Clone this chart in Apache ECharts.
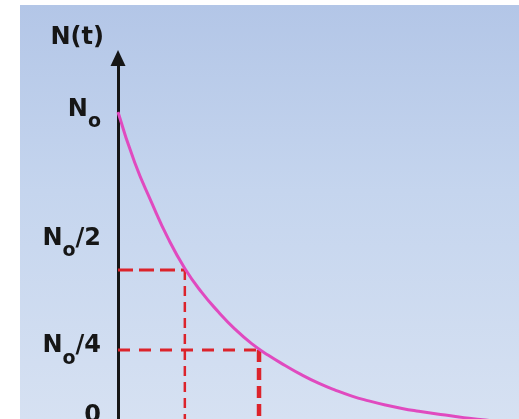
<!DOCTYPE html>
<html>
<head>
<meta charset="utf-8">
<script src="https://cdn.jsdelivr.net/npm/echarts@6/dist/echarts.min.js"></script>
<style>
html, body { margin: 0; padding: 0; background: #fff; }
#wrap { position: relative; width: 519px; height: 419px; overflow: hidden; }
#bg { position: absolute; left: 20px; top: 5px; right: 0; bottom: 0;
      background: linear-gradient(180deg, #b3c6e7 0%, #c5d5ee 45%, #d6e1f2 100%); }
#chart { position: absolute; left: 0; top: 0; width: 519px; height: 419px; }
</style>
</head>
<body>
<div id="wrap"><div id="bg"></div><div id="chart"></div></div>
<script>
// decay curve (t in half-lives, N as a fraction of N0)
const times = [0, 0.25, 0.5, 0.75, 1, 1.25, 1.5, 1.75, 2, 2.25, 2.5, 2.75, 3,
    3.25, 3.5, 3.75, 4, 4.25, 4.5, 4.75, 5, 5.25, 5.5, 5.75, 6];
const counts = [1.0, 0.84, 0.715, 0.60, 0.505, 0.43, 0.368, 0.313, 0.267, 0.23, 0.198, 0.168, 0.142,
    0.12, 0.101, 0.086, 0.073, 0.062, 0.053, 0.045, 0.038, 0.031, 0.025, 0.02, 0.016];

// where the dashed guides meet the curve
const halfPoint = [1.0, 0.5];
const quarterPoint = [2.11, 0.247];

// y axis labels: value each one sits at, and its text
const tickValues = [0.038, 0.256, 0.595, 1.005];
const tickTexts = ['0', '{n|N}{s|o}{n|/4}', '{n|N}{s|o}{n|/2}', '{n|N}{s|o}'];

const red = '#dc232b';
const ink = '#161616';
const font = 'DejaVu Sans';

function guide(points, width, dash) {
    return {
        type: 'line',
        data: points,
        symbol: 'none',
        silent: true,
        clip: true,
        lineStyle: { color: red, width: width, type: dash }
    };
}

const chart = echarts.init(document.getElementById('chart'));
chart.setOption({
    animation: false,
    // zero sits a little below the bottom edge, so the axis starts just above it
    grid: { left: 118, top: 58, right: 0, bottom: 0, containLabel: false, outerBoundsMode: 'none' },
    xAxis: { type: 'value', min: 0, max: 6, show: false },
    yAxis: {
        type: 'value',
        min: 0.0285,
        max: 1.171,
        name: 'N(t)',
        nameLocation: 'end',
        nameGap: 20,
        nameTextStyle: {
            fontFamily: font, fontSize: 24, fontWeight: 'bold', color: ink,
            align: 'right', verticalAlign: 'middle', padding: [0, 14, 0, 0]
        },
        splitLine: { show: false },
        axisTick: { show: false },
        axisLine: {
            show: true,
            onZero: false,
            symbol: ['none', 'triangle'],
            symbolSize: [15, 16],
            lineStyle: { color: ink, width: 3 }
        },
        axisLabel: {
            customValues: tickValues,
            margin: 17,
            fontFamily: font,
            fontSize: 24,
            fontWeight: 'bold',
            color: ink,
            formatter: v => tickTexts[tickValues.indexOf(v)],
            rich: {
                n: { fontFamily: font, fontSize: 24, fontWeight: 'bold', color: ink, lineHeight: 26, verticalAlign: 'top' },
                s: { fontFamily: font, fontSize: 19, fontWeight: 'bold', color: ink, lineHeight: 19, padding: [15, 0, 0, 0], verticalAlign: 'top' }
            }
        }
    },
    series: [
        guide([[0, halfPoint[1]], halfPoint], 3, [15, 6]),
        guide([halfPoint, [halfPoint[0], -0.1]], 2.5, [10, 6]),
        guide([[0, quarterPoint[1]], quarterPoint], 3, [12, 9]),
        guide([quarterPoint, [quarterPoint[0], -0.1]], 4.5, [12, 6]),
        {
            type: 'line',
            data: times.map((t, i) => [t, counts[i]]),
            smooth: 0.5,
            symbol: 'none',
            clip: true,
            lineStyle: { color: '#e04abf', width: 3 }
        }
    ]
});
</script>
</body>
</html>
